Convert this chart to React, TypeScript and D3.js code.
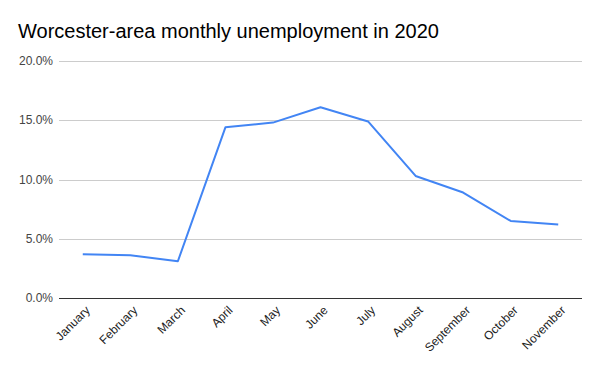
import React, { useEffect, useRef } from 'react';
import * as d3 from 'd3';

const months = ['January', 'February', 'March', 'April', 'May', 'June', 'July', 'August', 'September', 'October', 'November'];
const rates = [3.7, 3.6, 3.1, 14.4, 14.8, 16.1, 14.9, 10.3, 8.9, 6.5, 6.2];
const yTicks = [0, 5, 10, 15, 20];

export default function App() {
  const ref = useRef<SVGSVGElement>(null);

  useEffect(() => {
    if (!ref.current) return;
    const svg = d3.select(ref.current);
    svg.selectAll('*').remove();

    const width = 600;
    const height = 371;
    const left = 59;
    const right = 582;
    const top = 61;
    const bottom = 298;

    svg.append('rect').attr('width', width).attr('height', height).attr('fill', '#fff');

    const x = d3.scalePoint<string>().domain(months).range([left, right]).padding(0.5);
    const y = d3.scaleLinear().domain([0, 20]).range([bottom, top]);

    svg.append('text')
      .attr('x', 18)
      .attr('y', 38)
      .style('font-family', '"Liberation Sans", Arial, sans-serif')
      .style('font-size', '20px')
      .style('fill', '#000')
      .text('Worcester-area monthly unemployment in 2020');

    // gridlines
    svg.append('g')
      .selectAll('line')
      .data(yTicks.filter(t => t > 0))
      .enter()
      .append('line')
      .attr('x1', left)
      .attr('x2', right)
      .attr('y1', d => Math.round(y(d)) + 0.5)
      .attr('y2', d => Math.round(y(d)) + 0.5)
      .attr('stroke', '#cccccc')
      .attr('stroke-width', 1);

    // y labels
    svg.append('g')
      .selectAll('text')
      .data(yTicks)
      .enter()
      .append('text')
      .attr('x', left - 6)
      .attr('y', d => y(d) + 4)
      .attr('text-anchor', 'end')
      .style('font-family', '"Liberation Sans", Arial, sans-serif')
      .style('font-size', '12px')
      .style('fill', '#444')
      .text(d => d.toFixed(1) + '%');

    // line
    const line = d3.line<number>()
      .x((_, i) => x(months[i]) as number)
      .y(d => y(d));

    svg.append('path')
      .datum(rates)
      .attr('d', line)
      .attr('fill', 'none')
      .attr('stroke', '#4285F4')
      .attr('stroke-width', 2)
      .attr('stroke-linejoin', 'round');

    // baseline
    svg.append('line')
      .attr('x1', left)
      .attr('x2', right)
      .attr('y1', Math.round(y(0)) + 0.5)
      .attr('y2', Math.round(y(0)) + 0.5)
      .attr('stroke', '#333')
      .attr('stroke-width', 1);

    // x labels
    svg.append('g')
      .selectAll('text')
      .data(months)
      .enter()
      .append('text')
      .attr('transform', d => `translate(${(x(d) as number) + 8},${bottom + 13}) rotate(-45)`)
      .attr('text-anchor', 'end')
      .style('font-family', '"Liberation Sans", Arial, sans-serif')
      .style('font-size', '12px')
      .style('fill', '#222')
      .text(d => d);
  }, []);

  return (
    <svg
      ref={ref}
      width={600}
      height={371}
      style={{ position: 'absolute', left: 0, top: 0, display: 'block' }}
    />
  );
}
